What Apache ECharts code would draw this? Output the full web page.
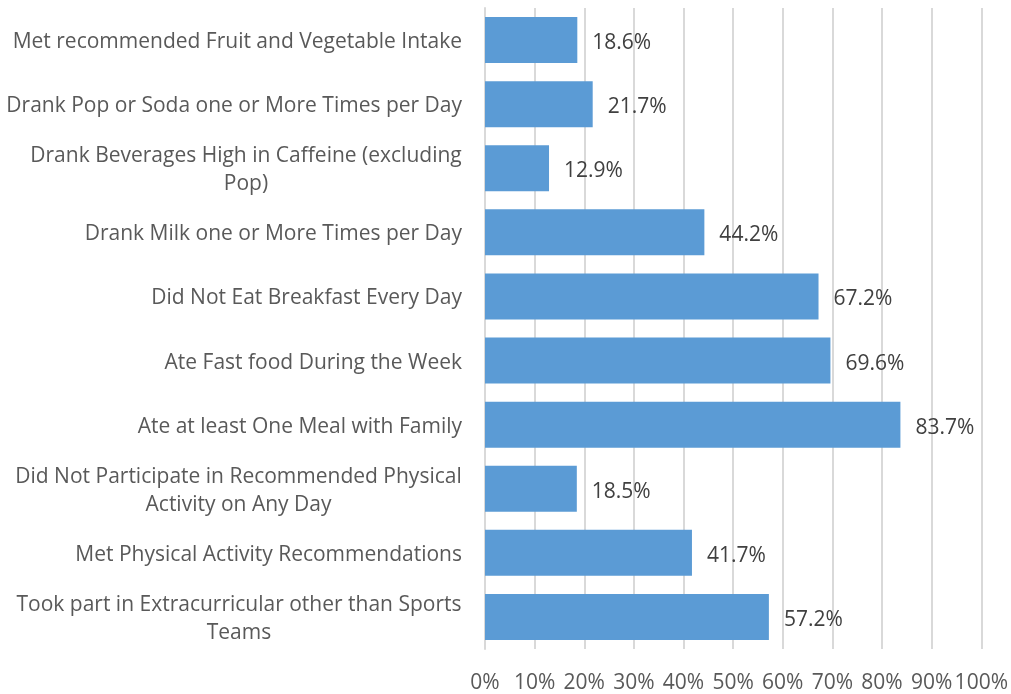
<!DOCTYPE html>
<html><head><meta charset="utf-8">
<script src="https://cdn.jsdelivr.net/npm/echarts@6/dist/echarts.min.js"></script>
<style>html,body{margin:0;padding:0;background:#fff}#c{width:1011px;height:694px}</style>
</head><body><div id="c"></div>
<script>
const categories = [
  "Met recommended Fruit and Vegetable Intake",
  "Drank Pop or Soda one or More Times per Day",
  "Drank Beverages High in Caffeine (excluding\nPop)",
  "Drank Milk one or More Times per Day",
  "Did Not Eat Breakfast Every Day",
  "Ate Fast food During the Week",
  "Ate at least One Meal with Family",
  "Did Not Participate in Recommended Physical\nActivity on Any Day",
  "Met Physical Activity Recommendations",
  "Took part in Extracurricular other than Sports\nTeams"
];
const values = [18.6, 21.7, 12.9, 44.2, 67.2, 69.6, 83.7, 18.5, 41.7, 57.2];

const FONT = '"Open Sans", sans-serif';
const FS = 21;
const LH = 28;
const cv = document.createElement('canvas').getContext('2d');
cv.font = FS + 'px ' + FONT;
function blockW(v) {
  return Math.ceil(Math.max(...v.split('\n').map(l => cv.measureText(l).width)));
}
function fmtCat(v) {
  const lines = v.split('\n');
  if (lines.length === 1) return v;
  const w = blockW(v);
  return lines.map(l => '{c' + w + '|' + l + '}').join('\n');
}
const rich = {};
categories.forEach(v => {
  if (v.indexOf('\n') >= 0) {
    const w = blockW(v);
    rich['c' + w] = {width: w, align: 'center', fontSize: FS, fontFamily: FONT, color: '#595959', lineHeight: LH};
  }
});

const chart = echarts.init(document.getElementById('c'));
chart.setOption({
  animation: false,
  grid: {left: 485, right: 29, top: 8, bottom: 42, containLabel: false},
  xAxis: {
    type: 'value', min: 0, max: 100, interval: 10,
    axisLabel: {formatter: '{value}%', fontSize: FS, fontFamily: FONT, color: '#595959', margin: 24},
    splitLine: {show: true, lineStyle: {color: '#d9d9d9', width: 2}},
    axisLine: {show: false}, axisTick: {show: false}
  },
  yAxis: {
    type: 'category', inverse: true, data: categories,
    axisLine: {show: true, lineStyle: {color: '#d9d9d9', width: 2}},
    axisTick: {show: false},
    axisLabel: {formatter: fmtCat, rich: rich, fontSize: FS, fontFamily: FONT, color: '#595959', margin: 23, lineHeight: LH, align: 'right', padding: [4, 0, 0, 0]}
  },
  series: [{
    type: 'bar', data: values, barWidth: 46,
    itemStyle: {color: '#5b9bd5'},
    label: {show: true, position: 'right', distance: 15, formatter: p => p.value.toFixed(1) + '%',
      fontSize: FS, fontFamily: FONT, color: '#404040', offset: [0, 3]}
  }]
});
</script></body></html>
